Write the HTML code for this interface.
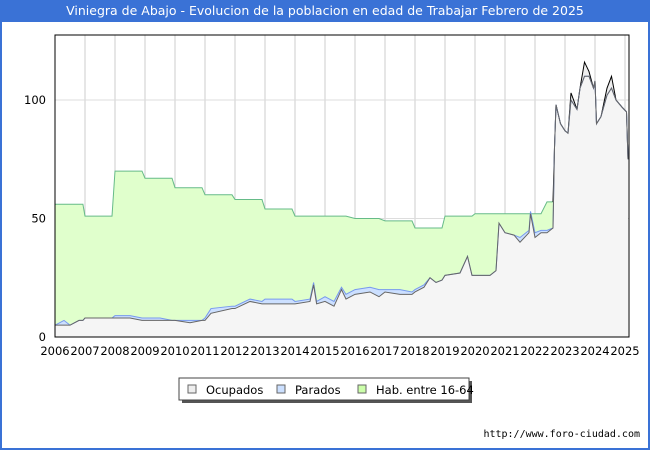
<!DOCTYPE html>
<html><head><meta charset="utf-8"><style>
body{margin:0;width:650px;height:450px;overflow:hidden;background:#fff;font-family:"DejaVu Sans","Liberation Sans",sans-serif}
#wrap{position:absolute;left:0;top:0;width:646px;height:448px;border:2px solid #3a72d6;border-top:none}
#title{position:absolute;left:0;top:0;width:650px;height:22px;background:#3a72d6;color:#fff;font-size:12.5px;line-height:22px;text-align:center}
</style></head><body>
<div id="wrap"></div>
<div id="title">Viniegra de Abajo - Evolucion de la poblacion en edad de Trabajar Febrero de 2025</div>
<svg id="chart" width="650" height="450" style="position:absolute;left:0;top:0"></svg>
<script>
const times=[2006.0,2006.3,2006.5,2006.8,2006.93,2007.0,2007.9,2008.0,2008.5,2008.9,2009.0,2009.5,2009.9,2010.0,2010.5,2010.9,2011.0,2011.2,2011.9,2012.0,2012.5,2012.9,2013.0,2013.9,2014.0,2014.5,2014.62,2014.72,2015.0,2015.3,2015.55,2015.7,2016.0,2016.5,2016.8,2017.0,2017.5,2017.9,2018.0,2018.3,2018.5,2018.7,2018.9,2019.0,2019.5,2019.75,2019.9,2020.0,2020.5,2020.7,2020.8,2021.0,2021.3,2021.5,2021.8,2021.85,2022.0,2022.2,2022.4,2022.6,2022.65,2022.7,2022.85,2023.0,2023.1,2023.2,2023.4,2023.5,2023.65,2023.8,2023.95,2024.0,2024.05,2024.2,2024.4,2024.55,2024.7,2024.9,2025.05,2025.1];
const ocupados=[5,5,5,7,7,8,8,8,8,7,7,7,7,7,6,7,7,10,12,12,15,14,14,14,14,15,22,14,15,13,20,16,18,19,17,19,18,18,19,21,25,23,24,26,27,34,26,26,26,28,48,44,43,40,44,52,42,44,44,46,80,98,90,87,86,100,96,105,110,110,105,108,90,93,102,105,100,97,95,75];
const parados=[0,2,0,0,0,0,0,1,1,1,1,1,0,0,1,0,1,2,1,1,1,1,2,2,1,1,1,1,2,2,1,2,2,2,3,1,2,1,1,1,0,0,0,0,0,0,0,0,0,0,0,0,0,2,1,1,2,1,1,0,0,0,0,0,0,0,0,0,0,0,0,0,0,0,0,0,0,0,0,0];
const hab=[56,56,56,56,56,51,51,70,70,70,67,67,67,63,63,63,60,60,60,58,58,58,54,54,51,51,51,51,51,51,51,51,50,50,50,49,49,49,46,46,46,46,46,51,51,51,51,52,52,52,52,52,52,52,52,52,52,52,57,57,80,98,90,87,86,103,96,105,116,112,105,108,90,93,105,110,100,97,95,75];
const yTicks=[0,50,100];
const xTicks=[2006,2007,2008,2009,2010,2011,2012,2013,2014,2015,2016,2017,2018,2019,2020,2021,2022,2023,2024,2025];
const L=55,R=629,T=35,B=337;
const X=t=>L+(t-2006)*30, Y=v=>B-v*2.37;
const svg=document.getElementById('chart');
const NS='http://www.w3.org/2000/svg';
function mk(tag,a){const e=document.createElementNS(NS,tag);for(const k in a)e.setAttribute(k,a[k]);svg.appendChild(e);return e;}
// grid
xTicks.forEach(t=>{const g=mk('line',{x1:X(t),x2:X(t),y1:T,y2:B,stroke:'#cccccc'});


const tx=mk('text',{x:X(t),y:355,'text-anchor':'middle','font-size':11.5,fill:'#000'});tx.textContent=t;

});
yTicks.forEach(v=>{const g=mk('line',{x1:L,x2:R,y1:Y(v),y2:Y(v),stroke:'#dddddd'});


const tx=mk('text',{x:46,y:Y(v)+4,'text-anchor':'end','font-size':11.5,fill:'#000'});tx.textContent=v;

});
function area(vals,fill,name){let d='M'+X(times[0])+','+Y(0);times.forEach((t,i)=>d+='L'+X(t)+','+Y(vals[i]));d+='L'+X(times[times.length-1])+','+Y(0)+'Z';const p=mk('path',{d:d,fill:fill});

}
function line(vals,stroke,name,i0,i1){let d='';for(let i=i0;i<=i1;i++)d+=(i==i0?'M':'L')+X(times[i])+','+Y(vals[i]);const p=mk('path',{d:d,fill:'none',stroke:stroke,'stroke-width':1});

}
const tot=ocupados.map((v,i)=>v+parados[i]);
const split=times.indexOf(2022.6);
area(hab,'#e0ffcc','hab-area');
// after 2022.6 the gap between ocupados and hab is light grey
(function(){let d='M'+X(times[split])+','+Y(0);for(let i=split;i<times.length;i++)d+='L'+X(times[i])+','+Y(hab[i]);d+='L'+X(times[times.length-1])+','+Y(0)+'Z';const p=mk('path',{d:d,fill:'#eeeeee'});

})();
area(tot,'#cce0ff','parados-area');
area(ocupados,'#f5f5f5','ocupados-area');
line(hab,'#66bb88','hab-line',0,split);
line(hab,'#000000','hab-line-late',split,times.length-1);
line(tot,'#7799ee','parados-line',0,times.length-1);
line(ocupados,'#666666','ocupados-line',0,times.length-1);
const fr=mk('rect',{x:L,y:T,width:R-L,height:B-T,fill:'none',stroke:'#000','stroke-width':1});


// legend
const sh=mk('rect',{x:182,y:381,width:290,height:22,fill:'#555'});


const lb=mk('rect',{x:179,y:378,width:290,height:22,fill:'#fff',stroke:'#444'});


[['Ocupados','#eeeeee',188,'legend-ocupados'],['Parados','#cce0ff',277,'legend-parados'],['Hab. entre 16-64','#ccffaa',358,'legend-hab']].forEach(e=>{
const r=mk('rect',{x:e[2],y:385,width:8,height:8,fill:e[1],stroke:'#666'});


const t=mk('text',{x:e[2]+18,y:394,'font-size':11.5,fill:'#000'});t.textContent=e[0];

});
const u=mk('text',{x:640,y:437,'text-anchor':'end','font-size':10,fill:'#000','font-family':'DejaVu Sans Mono,Liberation Mono,monospace'});u.textContent='http://www.foro-ciudad.com';


</script>
</body></html>
